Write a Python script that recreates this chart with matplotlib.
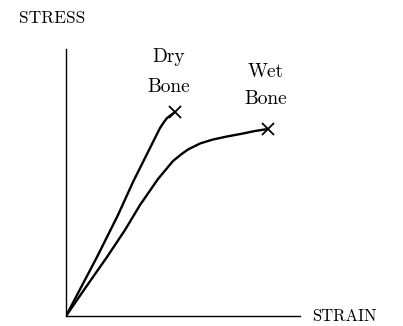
import numpy as np
import matplotlib
matplotlib.use("Agg")
import matplotlib.pyplot as plt

# stress-strain curves, arbitrary units
dry_strain = [0, 31, 52, 67, 84, 89, 94, 98, 101, 105, 109]
dry_stress = [0, 59, 101, 134, 168, 178, 188, 194, 198, 201, 204]

wet_strain = [0, 20, 41, 59, 74, 92, 107, 115, 122, 134, 147, 161, 177, 189, 202]
wet_stress = [0, 29, 59, 86, 111, 137, 155, 161.5, 166.5, 172.5, 176.5, 179.5, 182.5, 185, 187]

W, H = 403, 326
fig = plt.figure(figsize=(W / 100, H / 100), dpi=100)
ax = fig.add_axes([66 / W, 10 / H, 234 / W, 267 / H])
ax.set_xlim(0, 234)
ax.set_ylim(0, 267)

for s in ["top", "right"]:
    ax.spines[s].set_visible(False)
for s in ["left", "bottom"]:
    ax.spines[s].set_linewidth(1.0)
ax.set_xticks([])
ax.set_yticks([])

font = "cmr10"
kw = dict(color="black", lw=1.7, solid_capstyle="round", solid_joinstyle="round")
ax.plot(dry_strain, dry_stress, **kw)
ax.plot(wet_strain, wet_stress, **kw)
ax.plot(dry_strain[-1], dry_stress[-1], marker="x", color="black", ms=8, mew=1.3)
ax.plot(wet_strain[-1], wet_stress[-1], marker="x", color="black", ms=8, mew=1.3)

# curve labels, two lines each
ax.text(103, 254, "Dry", ha="center", va="baseline", fontfamily=font, fontsize=14)
ax.text(103, 224, "Bone", ha="center", va="baseline", fontfamily=font, fontsize=14)
ax.text(200, 239, "Wet", ha="center", va="baseline", fontfamily=font, fontsize=14)
ax.text(200, 212, "Bone", ha="center", va="baseline", fontfamily=font, fontsize=14)

fig.text(19 / W, 1 - 23 / H, "STRESS", ha="left", va="baseline",
         fontfamily=font, fontsize=12.5)
ax.text(246, 0, "STRAIN", ha="left", va="center", fontfamily=font, fontsize=12)

fig.savefig("out.png", dpi=100, facecolor="white")
